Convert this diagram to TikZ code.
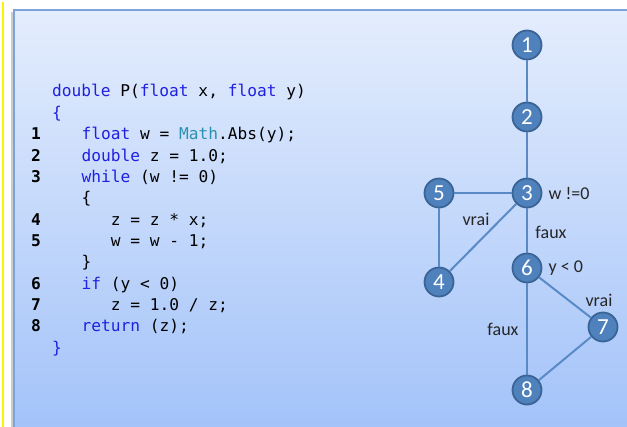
\documentclass[tikz,border=0pt]{standalone}
\usepackage{fontspec}
\setmonofont{DejaVu Sans Mono}
\newfontfamily\graphfont{Carlito}
\usepackage{xcolor}
\usetikzlibrary{positioning}

\definecolor{panelTop}{HTML}{E4EDFD}
\definecolor{panelBot}{HTML}{A3C3F9}
\definecolor{panelEdge}{HTML}{7EA3D8}
\definecolor{kwblue}{HTML}{2020E0}
\definecolor{clsteal}{HTML}{2B91AF}
\definecolor{nodefill}{HTML}{4F81BD}
\definecolor{nodeborder}{HTML}{3B6496}
\definecolor{edgeblue}{HTML}{5A8AC6}

\newcommand\kw[1]{\textcolor{kwblue}{#1}}
\newcommand\cls[1]{\textcolor{clsteal}{#1}}

\begin{document}
\begin{tikzpicture}[
    x=1pt, y=-1pt,
    codeline/.style={anchor=base west, inner sep=0pt,
                     font=\ttfamily\fontsize{16.2}{20}\selectfont},
    lineno/.style={anchor=base west, inner sep=0pt,
                   font=\ttfamily\bfseries\fontsize{16.2}{20}\selectfont},
    vertex/.style={circle, draw=nodeborder, fill=nodefill, line width=1.8pt,
                   minimum size=29pt, inner sep=0pt, text=white,
                   font=\graphfont\fontsize{23}{24}\selectfont},
    cond/.style={inner sep=0pt, text=black!85,
                 font=\graphfont\fontsize{18}{20}\selectfont},
    link/.style={draw=edgeblue, line width=2pt},
  ]

  \useasboundingbox (0,0) rectangle (627,427);

  % background panel
  \draw[yellow, line width=1.5pt] (3,2) -- (3,427);
  \shade[top color=panelTop, bottom color=panelBot] (14,10) rectangle (627,427);
  \draw[black!20, line width=1.5pt] (12,12) -- (12,427);
  \draw[panelEdge, line width=1.5pt] (14,427) -- (14,10) -- (627,10);

  % source code
  \node[codeline] (c0)  at (52,97)       {\kw{double} P(\kw{float} x, \kw{float} y)};
  \node[codeline] (c1)  at (52,118.35)   {\kw{\{}};
  \node[codeline] (c2)  at (81.3,139.7)  {\kw{float} w = \cls{Math}.Abs(y);};
  \node[codeline] (c3)  at (81.3,161.05) {\kw{double} z = 1.0;};
  \node[codeline] (c4)  at (81.3,182.4)  {\kw{while} (w != 0)};
  \node[codeline] (c5)  at (81.3,203.75) {\{};
  \node[codeline] (c6)  at (110.6,225.1) {z = z * x;};
  \node[codeline] (c7)  at (110.6,246.45) {w = w - 1;};
  \node[codeline] (c8)  at (81.3,267.8)  {\}};
  \node[codeline] (c9)  at (81.3,289.15) {\kw{if} (y < 0)};
  \node[codeline] (c10) at (110.6,310.5) {z = 1.0 / z;};
  \node[codeline] (c11) at (81.3,331.85) {\kw{return} (z);};
  \node[codeline] (c12) at (52,353.2)    {\kw{\}}};

  \foreach \n/\i in {1/2,2/3,3/4,4/6,5/7,6/9,7/10,8/11}
    \node[lineno] (num\n) at (31,{97+21.35*\i}) {\n};

  % control flow graph
  \node[vertex] (n1) at (527,45)  {1};
  \node[vertex] (n2) at (527,117) {2};
  \node[vertex] (n3) at (527,193) {3};
  \node[vertex] (n5) at (439,193) {5};
  \node[vertex] (n4) at (439,282) {4};
  \node[vertex] (n6) at (527,268) {6};
  \node[vertex] (n7) at (603,327) {7};
  \node[vertex] (n8) at (527,390) {8};

  \draw[link] (n1) -- (n2);
  \draw[link] (n2) -- (n3);
  \draw[link] (n3) -- (n5);
  \draw[link] (n5) -- (n4);
  \draw[link] (n4) -- (n3);
  \draw[link] (n3) -- (n6);
  \draw[link] (n6) -- (n8);
  \draw[link] (n6) -- (n7);
  \draw[link] (n7) -- (n8);

  \node[cond, right=6pt of n3] (w0) {w !=0};
  \node[cond, right=6pt of n6] (y0) {y < 0};
  \node[cond] (vrai1) at (476,219) {vrai};
  \node[cond] (faux1) at (551,232) {faux};
  \node[cond] (vrai2) at (599,300) {vrai};
  \node[cond] (faux2) at (503,329) {faux};

\end{tikzpicture}
\end{document}
